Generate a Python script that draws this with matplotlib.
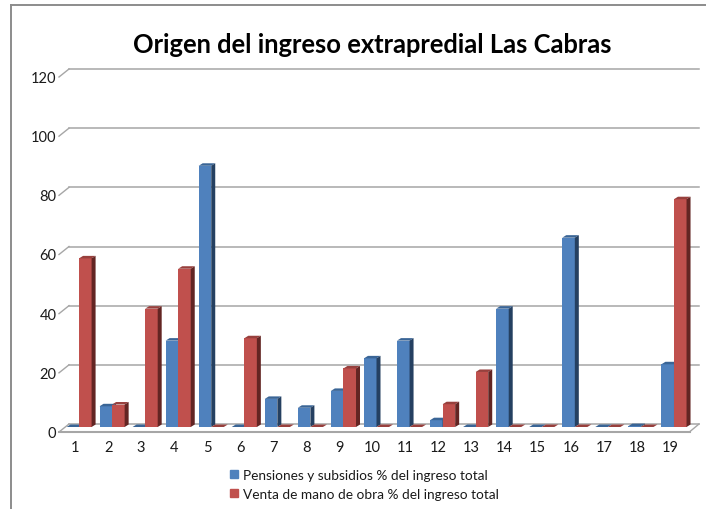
import matplotlib
matplotlib.use("Agg")
import matplotlib.pyplot as plt
from matplotlib.patches import Polygon
from matplotlib.transforms import Affine2D
from matplotlib.lines import Line2D

categories = list(range(1, 20))
pensiones = [0, 7, 0, 29.2, 88.3, 0, 9.5, 6.5, 12.2, 23.2, 29.2, 2.3, 0, 40, 0, 64, 0, 0.3, 21.2]
venta = [57, 7.6, 40, 53.5, 0, 30, 0, 0, 19.8, 0, 0, 7.7, 18.6, 0, 0, 0, 0, 0, 77]
yticks = [0, 20, 40, 60, 80, 100, 120]
title = "Origen del ingreso extrapredial Las Cabras"
label_a = "Pensiones y subsidios % del ingreso total"
label_b = "Venta de mano de obra % del ingreso total"

W, H = 706, 510
plt.rcParams['font.family'] = ['Lato', 'DejaVu Sans']
fig = plt.figure(figsize=(W / 100, H / 100), dpi=100)

# axes: bar plane; y=0 at pixel row 428, y=120 at row 73; x 0.5..19.5 spans 62.5..690.5
L, R, B, T = 62.5, 690.5, 428.0, 73.0
ax = fig.add_axes([L / W, 1 - B / H, (R - L) / W, (B - T) / H])
ax.set_xlim(0.5, 19.5)
ax.set_ylim(0, 120)
ax.axis("off")


def shifted(dx, dy):
    return ax.transData + Affine2D().translate(dx, dy)


GRID = "#a6a6a6"
for t in yticks:
    ax.plot([0.5, 19.56], [t, t], transform=shifted(6.5, 3), color=GRID, lw=1.1, clip_on=False, zorder=1)
    x0, y0 = ax.transData.transform((0.5, t))
    fig.add_artist(Line2D([(x0 - 3.5) / W, (x0 + 6.5) / W], [(y0 - 5) / H, (y0 + 3) / H],
                          color=GRID, lw=1.0, zorder=1))
    ax.text(0.5, t, str(t), transform=shifted(-6, -6), ha="right", va="center",
            fontsize=10.5, color="#1a1a1a", clip_on=False)
# floor front edge and right edge
ax.plot([0.5, 19.6], [0, 0], transform=shifted(-3.5, -4.5), color=GRID, lw=1.5, clip_on=False, zorder=1)
x1, y1 = ax.transData.transform((19.5, 0))
fig.add_artist(Line2D([(x1 - 0.5) / W, (x1 + 8.5) / W], [(y1 - 4.5) / H, (y1 + 3) / H],
                      color=GRID, lw=1.0, zorder=1))

BW = 0.38
DX, DY = 4, 2.5


def draw(xs, vals, front, top, side, z):
    ax.bar(xs, vals, BW, color=front, zorder=z, clip_on=False)
    for x, v in zip(xs, vals):
        l, r = x - BW / 2, x + BW / 2
        pl = ax.transData.transform((l, v))
        pr = ax.transData.transform((r, v))
        pb = ax.transData.transform((r, 0))
        ax.add_patch(Polygon([pl, pr, pr + (DX, DY), pl + (DX, DY)], closed=True,
                             transform=None, facecolor=top, edgecolor="none", zorder=z, clip_on=False))
        ax.add_patch(Polygon([pb, pr, pr + (DX, DY), pb + (DX, DY)], closed=True,
                             transform=None, facecolor=side, edgecolor="none", zorder=z, clip_on=False))


xs_a = [c - BW / 2 for c in categories]
xs_b = [c + BW / 2 for c in categories]
draw(xs_a, pensiones, "#4f81bd", "#3a6596", "#254061", 3)
draw(xs_b, venta, "#c0504d", "#98403d", "#632523", 4)

for c in categories:
    ax.text(c, 0, str(c), transform=shifted(-4, -20), ha="center", va="center",
            fontsize=10.5, color="#1a1a1a", clip_on=False)

fig.text(372.5 / W, 1 - 45 / H, title, ha="center", va="center", fontsize=18.4, fontweight="bold", color="black")

for yy, col, lab in [(475, "#4f81bd", label_a), (494, "#c0504d", label_b)]:
    fig.add_artist(plt.Rectangle((230 / W, 1 - (yy + 4) / H), 8 / W, 8 / H, color=col))
    fig.text(243 / W, 1 - (yy + 1) / H, lab, ha="left", va="center", fontsize=9.8, color="#1a1a1a")

# chart frame: left and top only
FR = "#8c8c8c"
fig.add_artist(Line2D([11 / W, 11 / W], [0, 1 - 6 / H], color=FR, lw=1.4))
fig.add_artist(Line2D([11 / W, 1], [1 - 6 / H, 1 - 6 / H], color=FR, lw=1.4))

fig.savefig("out.png", dpi=100)
